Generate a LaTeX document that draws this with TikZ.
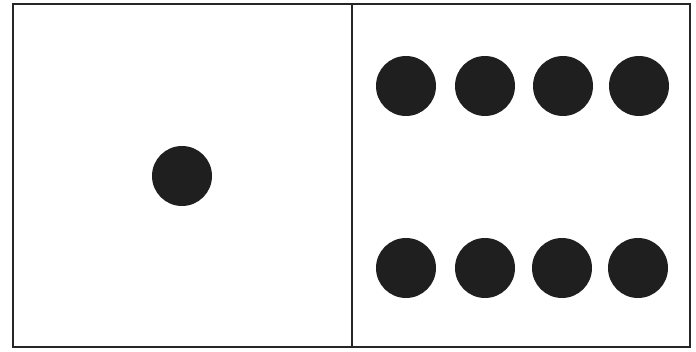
\documentclass[tikz,border=0pt]{standalone}
\begin{document}
\begin{tikzpicture}[x=1pt,y=-1pt,
  panel/.style={draw=black!85,line width=2pt},
  dot/.style={circle,fill=black!88,draw=none,minimum size=60pt,inner sep=0pt}]
\useasboundingbox (0,0) rectangle (696,352);
\draw[panel] (12.5,4.5) rectangle (351.5,347);
\draw[panel] (351.5,4.5) rectangle (689.5,347);
\node[dot] (L) at (182,176) {};
\node[dot] (t1) at (406,86) {};
\node[dot] (t2) at (485,86) {};
\node[dot] (t3) at (563,86) {};
\node[dot] (t4) at (639,86) {};
\node[dot] (b1) at (406,268) {};
\node[dot] (b2) at (485,268) {};
\node[dot] (b3) at (562,268) {};
\node[dot] (b4) at (638,268) {};
\end{tikzpicture}
\end{document}
